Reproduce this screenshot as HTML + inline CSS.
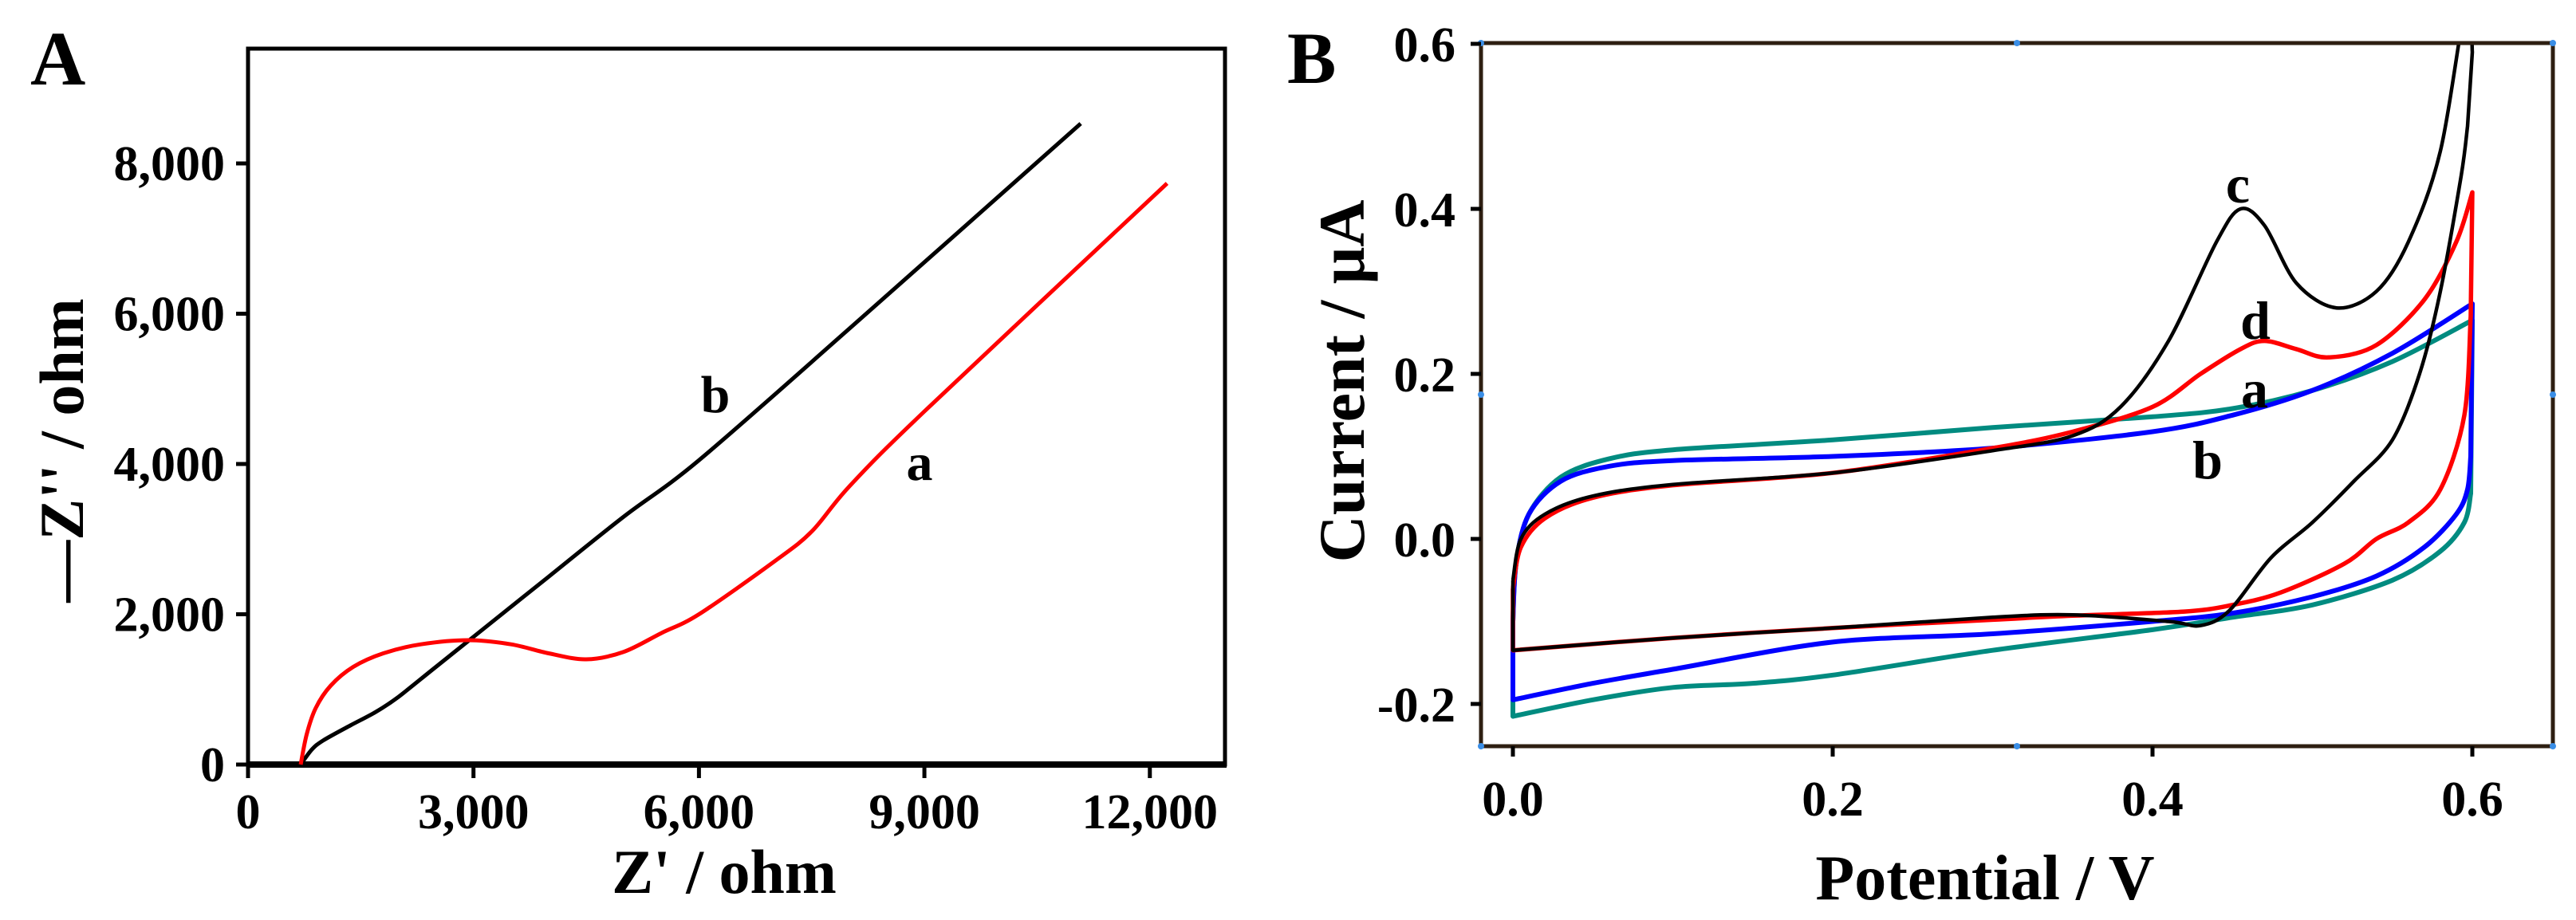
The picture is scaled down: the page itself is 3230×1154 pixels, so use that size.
<!DOCTYPE html>
<html><head><meta charset="utf-8"><style>
html,body{margin:0;padding:0;background:#fff;}
svg{display:block;font-family:"Liberation Serif",serif;font-weight:bold;}
</style></head><body>
<svg id="fig" width="3230" height="1154" viewBox="0 0 3230 1154" xmlns="http://www.w3.org/2000/svg">
<defs><clipPath id="clipB"><rect x="1857" y="54" width="1344" height="882"/></clipPath></defs>
<g id="pa"></g>
<g id="pb"></g>
</svg>
<script>
// ---- Panel A data (Nyquist) ----
const aXTicks = [0, 3000, 6000, 9000, 12000];
const aXTickLabels = ["0", "3,000", "6,000", "9,000", "12,000"];
const aYTicks = [0, 2000, 4000, 6000, 8000];
const aYTickLabels = ["0", "2,000", "4,000", "6,000", "8,000"];
const seriesBx = [700, 850, 1000, 1360, 1700, 2000, 2500, 3000, 3500, 4000, 5000, 6000, 8000, 11080];
const seriesBy = [0, 200, 320, 520, 700, 900, 1300, 1700, 2100, 2500, 3300, 4050, 5800, 8530];
const seriesAx = [700, 780, 900, 1100, 1400, 1800, 2300, 2930, 3500, 4000, 4500, 5000, 5500, 6000, 7000, 7500, 8000, 9000, 12230];
const seriesAy = [0, 400, 750, 1050, 1300, 1480, 1600, 1655, 1600, 1480, 1400, 1500, 1750, 2000, 2700, 3100, 3700, 4700, 7735];

// ---- Panel B data (CV) ----
const bXTicks = [0.0, 0.2, 0.4, 0.6];
const bXTickLabels = ["0.0", "0.2", "0.4", "0.6"];
const bYTicks = [-0.2, 0.0, 0.2, 0.4, 0.6];
const bYTickLabels = ["-0.2", "0.0", "0.2", "0.4", "0.6"];
const cvCx = [0,0.005,0.02,0.05,0.1,0.2,0.3,0.35,0.38,0.41,0.44,0.455,0.47,0.49,0.515,0.54,0.56,0.58,0.597, 0.6,0.597,0.593,0.58,0.567,0.55,0.526,0.5,0.474,0.448,0.43,0.41,0.35,0.3,0.2,0.1,0.0];
const cvCy = [-0.05,0.0,0.03,0.052,0.066,0.08,0.107,0.125,0.16,0.24,0.36,0.40,0.38,0.31,0.28,0.30,0.36,0.47,0.66, 0.59,0.5,0.44,0.3,0.2,0.12,0.07,0.02,-0.023,-0.087,-0.105,-0.1,-0.092,-0.095,-0.108,-0.12,-0.135];
const cvDx = [0,0.005,0.02,0.05,0.1,0.2,0.3,0.35,0.4,0.43,0.455,0.47,0.49,0.51,0.54,0.57,0.59,0.6, 0.599,0.595,0.58,0.56,0.54,0.52,0.48,0.45,0.42,0.35,0.3,0.2,0.1,0.0];
const cvDy = [-0.06,-0.01,0.025,0.05,0.065,0.08,0.11,0.13,0.16,0.2,0.23,0.24,0.23,0.22,0.235,0.29,0.36,0.42, 0.27,0.15,0.06,0.02,0.0,-0.03,-0.065,-0.08,-0.088,-0.093,-0.098,-0.108,-0.12,-0.135];
const cvAx = [0,0.002,0.01,0.03,0.06,0.1,0.2,0.3,0.4,0.45,0.5,0.55,0.6, 0.599,0.597,0.59,0.57,0.54,0.5,0.45,0.4,0.3,0.2,0.1,0.05,0.0];
const cvAy = [-0.1,-0.03,0.03,0.07,0.088,0.095,0.1,0.11,0.13,0.15,0.18,0.225,0.285, 0.1,0.06,0.03,-0.01,-0.045,-0.07,-0.09,-0.1,-0.115,-0.125,-0.158,-0.175,-0.195];
const cvBx = [0,0.002,0.01,0.03,0.06,0.1,0.2,0.3,0.4,0.45,0.5,0.55,0.6, 0.599,0.595,0.58,0.55,0.5,0.45,0.4,0.3,0.2,0.15,0.1,0.05,0.0];
const cvBy = [-0.1,-0.03,0.03,0.075,0.097,0.108,0.12,0.135,0.148,0.158,0.18,0.215,0.265, 0.055,0.02,-0.015,-0.05,-0.08,-0.095,-0.11,-0.135,-0.165,-0.175,-0.18,-0.195,-0.215];

const NS = "http://www.w3.org/2000/svg";
function mk(parent, tag, attrs, text) {
  const e = document.createElementNS(NS, tag);
  for (const k in attrs) e.setAttribute(k, attrs[k]);
  if (text !== undefined) e.textContent = text;
  parent.appendChild(e);
  return e;
}
function smoothSeg(p, first) {
  let d = first ? "M" + p[0][0].toFixed(1) + "," + p[0][1].toFixed(1) : "";
  for (let i = 0; i < p.length - 1; i++) {
    const p0 = p[Math.max(0, i - 1)], p1 = p[i], p2 = p[i + 1], p3 = p[Math.min(p.length - 1, i + 2)];
    const t = 0.16;
    const c1 = [p1[0] + (p2[0] - p0[0]) * t, p1[1] + (p2[1] - p0[1]) * t];
    const c2 = [p2[0] - (p3[0] - p1[0]) * t, p2[1] - (p3[1] - p1[1]) * t];
    d += " C" + c1[0].toFixed(1) + "," + c1[1].toFixed(1) + " " + c2[0].toFixed(1) + "," + c2[1].toFixed(1) + " " + p2[0].toFixed(1) + "," + p2[1].toFixed(1);
  }
  return d;
}
function smoothPath(xs, ys, fx, fy) {
  return smoothSeg(xs.map((x, i) => [fx(x), fy(ys[i])]), true);
}
// CV loop: forward branch (x increasing), straight link, reverse branch, close with vertical line
function loopPath(xs, ys, fx, fy) {
  let k = 0;
  while (k < xs.length - 1 && xs[k + 1] > xs[k]) k++;
  const fwd = [], rev = [];
  for (let i = 0; i <= k; i++) fwd.push([fx(xs[i]), fy(ys[i])]);
  for (let i = k + 1; i < xs.length; i++) rev.push([fx(xs[i]), fy(ys[i])]);
  let d = smoothSeg(fwd, true);
  d += " L" + rev[0][0].toFixed(1) + "," + rev[0][1].toFixed(1) + smoothSeg(rev, false);
  d += " L" + fwd[0][0].toFixed(1) + "," + fwd[0][1].toFixed(1);
  return d;
}

// ===== Panel A =====
const pa = document.getElementById("pa");
const aL = 311, aR = 1536, aT = 61, aB = 959;
const aXmin = 0, aXmax = 13000, aYmin = 0, aYmax = (959 - 61) / 0.09425;
const axA = v => aL + (v - aXmin) / (aXmax - aXmin) * (aR - aL);
const ayA = v => aB - (v - aYmin) / (aYmax - aYmin) * (aB - aT);

let el;
el = mk(pa, "rect", {x: aL, y: aT, width: aR - aL, height: aB - aT, fill: "none", stroke: "#000", "stroke-width": 5});


el = mk(pa, "line", {x1: aL - 2, x2: aR + 2, y1: aB, y2: aB, stroke: "#000", "stroke-width": 8});


aXTicks.forEach((v, i) => {
  const x = axA(v);
  let t = mk(pa, "line", {x1: x, x2: x, y1: aB, y2: aB + 17, stroke: "#000", "stroke-width": 5});
  
  
  let l = mk(pa, "text", {x: x, y: 1039, "text-anchor": "middle", "font-size": 62}, aXTickLabels[i]);
  
  
});
aYTicks.forEach((v, i) => {
  const y = ayA(v);
  let t = mk(pa, "line", {x1: aL - 15, x2: aL, y1: y, y2: y, stroke: "#000", "stroke-width": 5});
  
  
  let l = mk(pa, "text", {x: 282, y: y + 21, "text-anchor": "end", "font-size": 62}, aYTickLabels[i]);
  
  
});
el = mk(pa, "text", {x: 908, y: 1120, "text-anchor": "middle", "font-size": 78}, "Z' / ohm");


el = mk(pa, "text", {x: 0, y: 0, "text-anchor": "middle", "font-size": 78, transform: "translate(104,565) rotate(-90)"}, "\u2014Z'' / ohm");


el = mk(pa, "text", {x: 38, y: 106, "font-size": 96}, "A");


el = mk(pa, "path", {d: smoothPath(seriesBx, seriesBy, axA, ayA), fill: "none", stroke: "#000", "stroke-width": 5});


el = mk(pa, "path", {d: smoothPath(seriesAx, seriesAy, axA, ayA), fill: "none", stroke: "#ff0000", "stroke-width": 5});


el = mk(pa, "text", {x: 897, y: 517, "text-anchor": "middle", "font-size": 66}, "b");


el = mk(pa, "text", {x: 1153, y: 602, "text-anchor": "middle", "font-size": 66}, "a");



// ===== Panel B =====
const pb = document.getElementById("pb");
const bL = 1857, bR = 3201, bT = 54, bB = 936;
const bx0 = 1897, bxPer = (3100 - 1897) / 0.6;
const by0 = 676, byPer = 207 / 0.2;
const axB = v => bx0 + v * bxPer;
const ayB = v => by0 - v * byPer;

const curves = mk(pb, "g", {"clip-path": "url(#clipB)"});


const series = [
  [cvBx, cvBy, "#008b80", "cv-b-teal", 6],
  [cvAx, cvAy, "#0000ff", "cv-a-blue", 6],
  [cvDx, cvDy, "#ff0000", "cv-d-red", 5.5],
  [cvCx, cvCy, "#000000", "cv-c-black", 4.5]
];
series.forEach(s => {
  let p = mk(curves, "path", {d: loopPath(s[0], s[1], axB, ayB), fill: "none", stroke: s[2], "stroke-width": s[4], "stroke-linejoin": "round"});
  
  
});
el = mk(pb, "rect", {x: bL, y: bT, width: bR - bL, height: bB - bT, fill: "none", stroke: "#2e1f12", "stroke-width": 5});


[[bL, bT], [bR, bT], [bL, bB], [bR, bB], [(bL + bR) / 2, bT], [(bL + bR) / 2, bB], [bL, (bT + bB) / 2], [bR, (bT + bB) / 2]].forEach(c => {
  let m = mk(pb, "circle", {cx: c[0], cy: c[1], r: 4, fill: "#3a8ee6"});
  
  
});
bXTicks.forEach((v, i) => {
  const x = axB(v);
  let t = mk(pb, "line", {x1: x, x2: x, y1: bB, y2: bB + 13, stroke: "#000", "stroke-width": 5});
  
  
  let l = mk(pb, "text", {x: x, y: 1023, "text-anchor": "middle", "font-size": 62}, bXTickLabels[i]);
  
  
});
bYTicks.forEach((v, i) => {
  const y = ayB(v);
  let t = mk(pb, "line", {x1: bL - 13, x2: bL, y1: y, y2: y, stroke: "#000", "stroke-width": 5});
  
  
  let l = mk(pb, "text", {x: 1825, y: y + 22, "text-anchor": "end", "font-size": 62}, bYTickLabels[i]);
  
  
});
el = mk(pb, "text", {x: 2489, y: 1128, "text-anchor": "middle", "font-size": 80}, "Potential / V");


el = mk(pb, "text", {x: 0, y: 0, "text-anchor": "middle", "font-size": 82, transform: "translate(1710,478) rotate(-90)"}, "Current / \u03bcA");


el = mk(pb, "text", {x: 1614, y: 104, "font-size": 92}, "B");


[["c", 2806, 254], ["d", 2828, 425], ["a", 2827, 511], ["b", 2768, 600]].forEach(c => {
  let t = mk(pb, "text", {x: c[1], y: c[2], "text-anchor": "middle", "font-size": 68}, c[0]);
  
  
});
</script>
</body></html>
